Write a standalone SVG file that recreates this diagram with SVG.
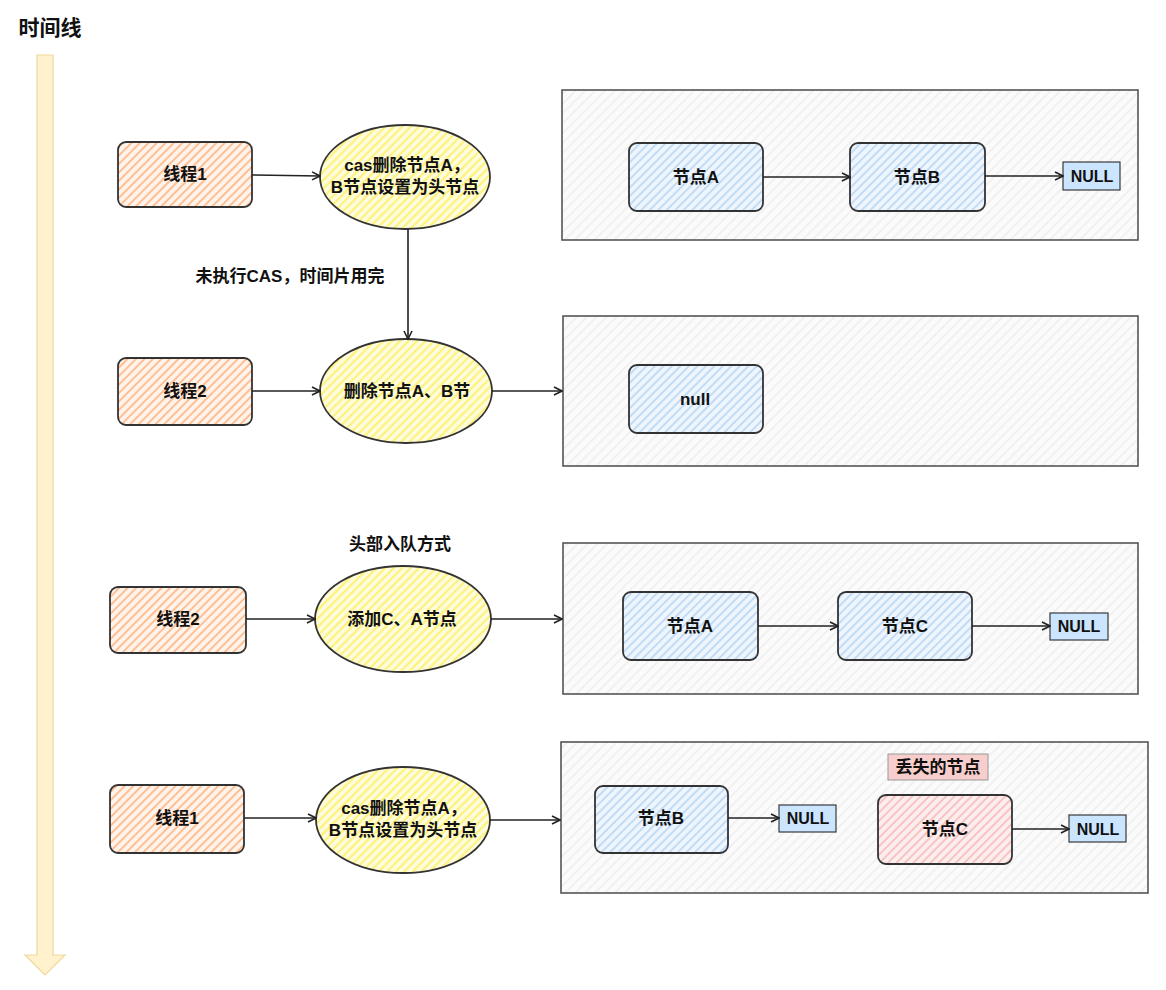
<svg xmlns="http://www.w3.org/2000/svg" width="1166" height="990" viewBox="0 0 1166 990">
<defs>
<pattern id="hOrange" width="6" height="6" patternUnits="userSpaceOnUse" patternTransform="rotate(45)"><rect width="6" height="6" fill="#fff4ec"/><line x1="2" y1="0" x2="2" y2="6" stroke="#ffbf94" stroke-width="2"/></pattern>
<pattern id="hYellow" width="6" height="6" patternUnits="userSpaceOnUse" patternTransform="rotate(45)"><rect width="6" height="6" fill="#fffde0"/><line x1="2" y1="0" x2="2" y2="6" stroke="#fff27a" stroke-width="2.2"/></pattern>
<pattern id="hBlue" width="6" height="6" patternUnits="userSpaceOnUse" patternTransform="rotate(45)"><rect width="6" height="6" fill="#eef5fd"/><line x1="2" y1="0" x2="2" y2="6" stroke="#c3dcf6" stroke-width="2"/></pattern>
<pattern id="hRed" width="6" height="6" patternUnits="userSpaceOnUse" patternTransform="rotate(45)"><rect width="6" height="6" fill="#fdeeee"/><line x1="2" y1="0" x2="2" y2="6" stroke="#f6c4c4" stroke-width="2"/></pattern>
<pattern id="hGray" width="7" height="7" patternUnits="userSpaceOnUse" patternTransform="rotate(45)"><rect width="7" height="7" fill="#fbfbfb"/><line x1="2" y1="0" x2="2" y2="7" stroke="#eeeeee" stroke-width="1.5"/></pattern>
<marker id="arr" viewBox="0 0 10 10" refX="9" refY="5" markerWidth="10" markerHeight="10" markerUnits="userSpaceOnUse" orient="auto"><path d="M1,1 L9,5 L1,9" fill="none" stroke="#222" stroke-width="1.6"/></marker>
</defs>
<style>
text{font-family:"Liberation Sans","Noto Sans CJK SC",sans-serif;font-weight:bold;fill:#111;text-anchor:middle;dominant-baseline:central}
.t{font-size:17px}
.n{font-size:16px}
.thread{fill:url(#hOrange);stroke:#333;stroke-width:1.8}
.ell{fill:url(#hYellow);stroke:#333;stroke-width:1.8}
.blue{fill:url(#hBlue);stroke:#333;stroke-width:1.8}
.red{fill:url(#hRed);stroke:#333;stroke-width:1.8}
.panel{fill:url(#hGray);stroke:#555;stroke-width:1.6}
.null{fill:#cce5ff;stroke:#36393d;stroke-width:1.2}
.conn path{fill:none;stroke:#222;stroke-width:1.6;marker-end:url(#arr)}
</style>
<rect width="1166" height="990" fill="#ffffff"/>
<g id="timeline">
<text x="50" y="27" style="font-size:21px">时间线</text>
<path d="M37,55 L53,55 L53,955 L65,955 L45,975 L25,955 L37,955 Z" fill="#fff2cc" stroke="#f0d79a" stroke-width="1.2"/>
</g>
<g id="panel1"><rect class="panel" x="562" y="90" width="576" height="150"/></g>
<g id="panel2"><rect class="panel" x="563" y="316" width="575" height="150"/></g>
<g id="panel3"><rect class="panel" x="563" y="543" width="575" height="151"/></g>
<g id="panel4"><rect class="panel" x="561" y="742" width="587" height="151"/></g>

<g id="t1a"><rect class="thread" x="118" y="142" width="134" height="65" rx="8"/><text class="t" x="185" y="174">线程1</text></g>
<g id="e1"><ellipse class="ell" cx="405" cy="177" rx="85" ry="52"/><text class="t" x="407" y="165">cas删除节点A，</text><text class="t" x="405" y="187">B节点设置为头节点</text></g>
<g id="n1a"><rect class="blue" x="629" y="143" width="134" height="68" rx="8"/><text class="t" x="696" y="177">节点A</text></g>
<g id="n1b"><rect class="blue" x="850" y="143" width="135" height="68" rx="8"/><text class="t" x="917" y="177">节点B</text></g>
<g id="null1"><rect class="null" x="1063" y="162" width="57" height="28"/><text class="n" x="1092" y="176">NULL</text></g>
<g id="lbl1"><text class="t" x="290" y="276">未执行CAS，时间片用完</text></g>

<g id="t2a"><rect class="thread" x="118" y="358" width="134" height="67" rx="8"/><text class="t" x="185" y="391">线程2</text></g>
<g id="e2"><ellipse class="ell" cx="406" cy="391" rx="86" ry="52"/><text class="t" x="407" y="391">删除节点A、B节</text></g>
<g id="nnull"><rect class="blue" x="629" y="365" width="134" height="68" rx="8"/><text class="t" x="695" y="399">null</text></g>

<g id="lbl3"><text class="t" x="400" y="544">头部入队方式</text></g>
<g id="t2b"><rect class="thread" x="110" y="587" width="136" height="66" rx="8"/><text class="t" x="178" y="619">线程2</text></g>
<g id="e3"><ellipse class="ell" cx="403" cy="619" rx="88" ry="53"/><text class="t" x="402" y="619">添加C、A节点</text></g>
<g id="n3a"><rect class="blue" x="623" y="592" width="135" height="68" rx="8"/><text class="t" x="690" y="626">节点A</text></g>
<g id="n3c"><rect class="blue" x="838" y="592" width="134" height="68" rx="8"/><text class="t" x="905" y="626">节点C</text></g>
<g id="null3"><rect class="null" x="1050" y="613" width="58" height="27"/><text class="n" x="1079" y="626">NULL</text></g>

<g id="t1b"><rect class="thread" x="110" y="785" width="134" height="68" rx="8"/><text class="t" x="177" y="818">线程1</text></g>
<g id="e4"><ellipse class="ell" cx="403" cy="820" rx="87" ry="53"/><text class="t" x="404" y="808">cas删除节点A，</text><text class="t" x="403" y="830">B节点设置为头节点</text></g>
<g id="lost"><rect x="888" y="754" width="100" height="26" fill="#f8cecc" stroke="#999" stroke-width="1"/><text class="t" x="938" y="767">丢失的节点</text></g>
<g id="n4b"><rect class="blue" x="595" y="786" width="133" height="67" rx="8"/><text class="t" x="661" y="818">节点B</text></g>
<g id="null4a"><rect class="null" x="779" y="805" width="57" height="27"/><text class="n" x="808" y="818">NULL</text></g>
<g id="n4c"><rect class="red" x="878" y="795" width="134" height="69" rx="8"/><text class="t" x="945" y="829">节点C</text></g>
<g id="null4b"><rect class="null" x="1069" y="815" width="57" height="27"/><text class="n" x="1098" y="829">NULL</text></g>

<g id="connectors" class="conn">
<path d="M252,175 L320,176"/>
<path d="M763,177 L850,177"/>
<path d="M985,176 L1063,176"/>
<path d="M408,229 L408,339"/>
<path d="M252,391 L320,391"/>
<path d="M492,391 L562,391"/>
<path d="M246,619 L315,619"/>
<path d="M491,619 L562,619"/>
<path d="M758,626 L838,626"/>
<path d="M972,626 L1050,626"/>
<path d="M244,818 L316,818"/>
<path d="M490,820 L560,820"/>
<path d="M728,818 L779,818"/>
<path d="M1012,829 L1069,829"/>
</g>
</svg>
